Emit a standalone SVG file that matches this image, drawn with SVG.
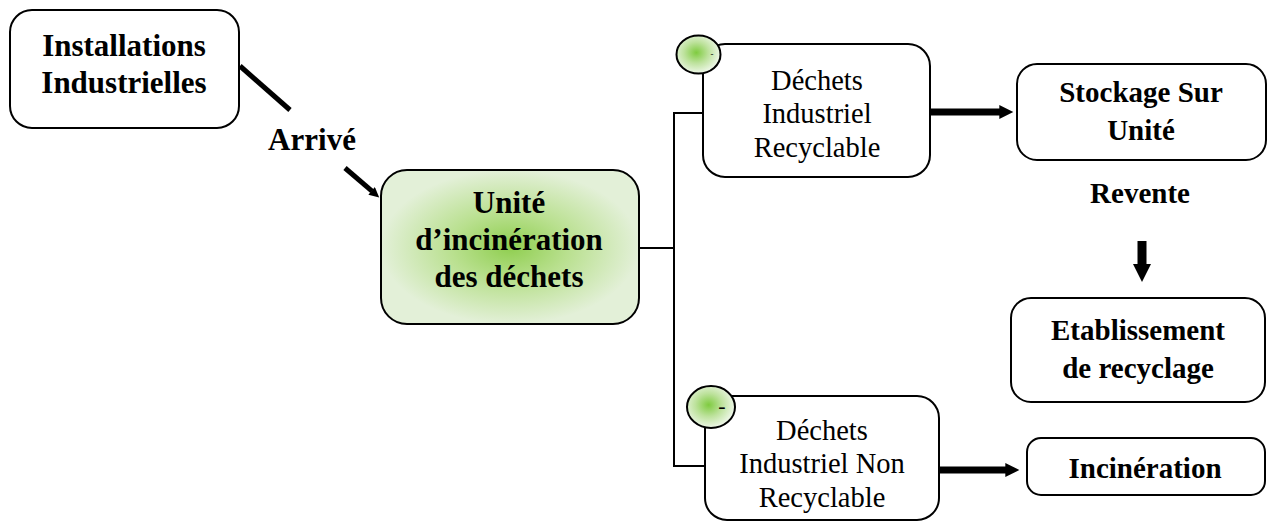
<svg xmlns="http://www.w3.org/2000/svg" width="1269" height="524" viewBox="0 0 1269 524">
  <defs>
    <radialGradient id="greenGlow" cx="50%" cy="50%" r="50%">
      <stop offset="0" stop-color="#8fce4f"/>
      <stop offset="0.45" stop-color="#b9e08f"/>
      <stop offset="1" stop-color="#e3f0d8"/>
    </radialGradient>
    <radialGradient id="dotGlow" cx="45%" cy="45%" r="55%">
      <stop offset="0" stop-color="#7fcb40"/>
      <stop offset="0.5" stop-color="#bde29c"/>
      <stop offset="1" stop-color="#eef7e8"/>
    </radialGradient>
    <marker id="head" viewBox="0 0 10 10" refX="0.5" refY="5" markerUnits="strokeWidth" markerWidth="2.4" markerHeight="2" orient="auto">
      <path d="M0,0 L10,5 L0,10 z" fill="#000"/>
    </marker>
    <style>
      .box { fill: #fff; stroke: #000; stroke-width: 2; }
      .main { fill: url(#greenGlow); stroke: #000; stroke-width: 2; }
      .dot { fill: url(#dotGlow); stroke: #000; stroke-width: 2; }
      .bold { font-family: "Liberation Serif", "Times New Roman", serif; font-weight: bold; fill: #000; text-anchor: middle; }
      .reg { font-family: "Liberation Serif", "Times New Roman", serif; fill: #000; text-anchor: middle; }
      .thin { fill: none; stroke: #000; stroke-width: 2; }
      .thick { fill: none; stroke: #000; }
    </style>
  </defs>

  <!-- connectors -->
  <g id="connectors">
    <!-- feed from the installations to the plant -->
    <line class="thick" x1="240" y1="66" x2="290" y2="110" stroke-width="5"/>
    <line class="thick" x1="345" y1="168" x2="372" y2="191.2" stroke-width="5" marker-end="url(#head)"/>
    <!-- split into the two waste streams -->
    <polyline class="thin" points="639,248 674,248"/>
    <polyline class="thin" points="705,113 674,113 674,466 705,466"/>
    <!-- outgoing flows -->
    <line class="thick" x1="928" y1="112" x2="1000" y2="112" stroke-width="7" marker-end="url(#head)"/>
    <line class="thick" x1="937" y1="470" x2="1006" y2="470" stroke-width="7" marker-end="url(#head)"/>
    <line class="thick" x1="1142" y1="241" x2="1142" y2="265" stroke-width="9" marker-end="url(#head)"/>
    <text class="bold" x="312" y="150" font-size="31">Arrivé</text>
    <text class="bold" x="1140" y="203" font-size="29">Revente</text>
  </g>

  <g id="installations">
    <rect class="box" x="10" y="10" width="229" height="118" rx="22"/>
    <text class="bold" x="124" y="56" font-size="31">Installations</text>
    <text class="bold" x="124" y="93" font-size="31">Industrielles</text>
  </g>

  <g id="unite">
    <rect class="main" x="381" y="170" width="258" height="154" rx="26"/>
    <text class="bold" x="509" y="213" font-size="31">Unité</text>
    <text class="bold" x="509" y="250" font-size="31">d’incinération</text>
    <text class="bold" x="509" y="287" font-size="31">des déchets</text>
  </g>

  <g id="recyclable">
    <rect class="box" x="703" y="44" width="227" height="133" rx="22"/>
    <ellipse class="dot" cx="698.5" cy="54.5" rx="22" ry="19"/>
    <text class="reg" x="712" y="57" font-size="9">-</text>
    <text class="reg" x="817" y="90" font-size="28.5">Déchets</text>
    <text class="reg" x="817" y="123" font-size="28.5">Industriel</text>
    <text class="reg" x="817" y="157" font-size="28.5">Recyclable</text>
  </g>

  <g id="non-recyclable">
    <rect class="box" x="705" y="396" width="234" height="124" rx="22"/>
    <ellipse class="dot" cx="711" cy="407" rx="24" ry="21"/>
    <text class="reg" x="722" y="413" font-size="22">-</text>
    <text class="reg" x="822" y="440" font-size="28.5">Déchets</text>
    <text class="reg" x="822" y="473" font-size="28.5">Industriel Non</text>
    <text class="reg" x="822" y="507" font-size="28.5">Recyclable</text>
  </g>

  <g id="stockage">
    <rect class="box" x="1017" y="64" width="249" height="96" rx="20"/>
    <text class="bold" x="1141" y="102" font-size="29">Stockage Sur</text>
    <text class="bold" x="1141" y="140" font-size="29">Unité</text>
  </g>

  <g id="etablissement">
    <rect class="box" x="1011" y="298" width="254" height="104" rx="20"/>
    <text class="bold" x="1138" y="340" font-size="29">Etablissement</text>
    <text class="bold" x="1138" y="378" font-size="29">de recyclage</text>
  </g>

  <g id="incineration">
    <rect class="box" x="1027" y="438" width="238" height="57" rx="14"/>
    <text class="bold" x="1145" y="478" font-size="29">Incinération</text>
  </g>
</svg>
